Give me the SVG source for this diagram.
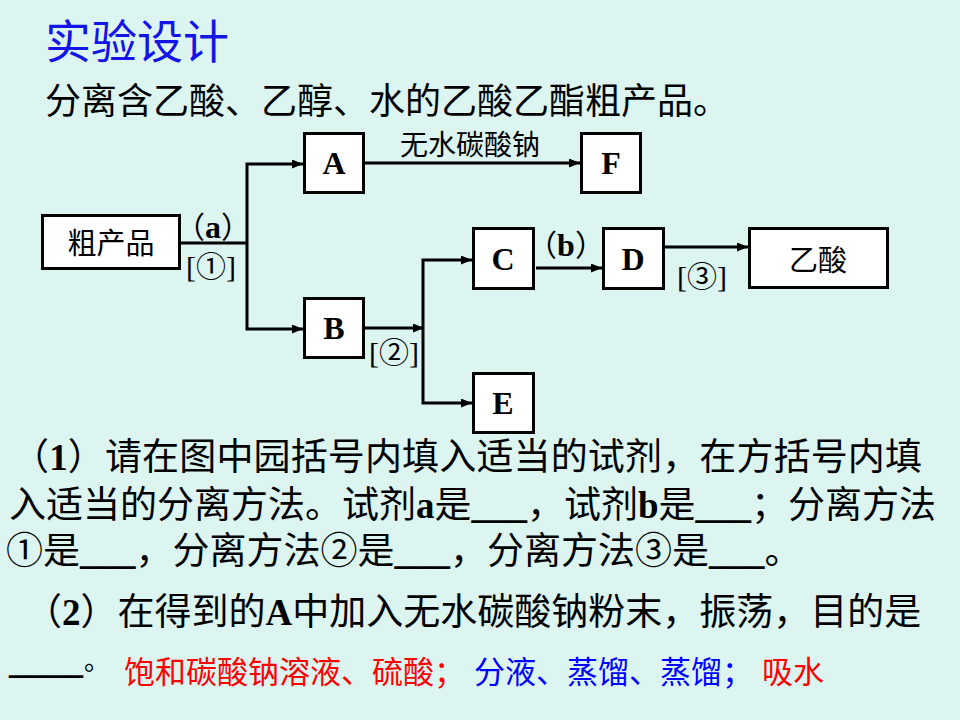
<svg xmlns="http://www.w3.org/2000/svg" width="960" height="720" viewBox="0 0 960 720">
<defs>
<marker id="arr" markerUnits="userSpaceOnUse" markerWidth="11" markerHeight="9" refX="11" refY="4.5" orient="auto">
<path d="M0,0 L11,4.5 L0,9 z" fill="#000"/>
</marker>
<style>
.bg{fill:#DCF5F1}
.box{fill:#fff;stroke:#000;stroke-width:3}
.ln{fill:none;stroke:#000;stroke-width:3}
.arr{marker-end:url(#arr)}
text{font-family:"Liberation Serif","Noto Sans CJK SC",serif;fill:#000}
.cjk{font-family:"Noto Sans CJK SC",sans-serif}
.lt{font-weight:bold;font-size:32px;text-anchor:middle}
.lab{font-size:30px;text-anchor:middle}
.b{font-weight:bold}
.q{font-size:37px}
.red{fill:#FF0000}
.blue{fill:#0000FF}
</style>
</defs>
<rect class="bg" x="0" y="0" width="960" height="720"/>
<text x="45" y="58" font-size="46" class="cjk" style="fill:#1414E6">实验设计</text>
<text x="45" y="114" font-size="36" class="cjk">分离含乙酸、乙醇、水的乙酸乙酯粗产品。</text>

<g id="connectors">
<polyline class="ln" points="181,243 247,243"/>
<polyline class="ln arr" points="247,243 247,164 303,164"/>
<polyline class="ln arr" points="247,243 247,329 303,329"/>
<line class="ln arr" x1="365" y1="163" x2="580" y2="163"/>
<line class="ln arr" x1="365" y1="328" x2="424" y2="328"/>
<polyline class="ln arr" points="423,328 423,260 472,260"/>
<polyline class="ln arr" points="423,328 423,403 472,403"/>
<line class="ln arr" x1="536" y1="268" x2="602" y2="268"/>
<line class="ln arr" x1="665" y1="247" x2="748" y2="247"/>
<text x="470" y="155" font-size="28" class="cjk" text-anchor="middle">无水碳酸钠</text>
<text x="213" y="238" class="lab">（<tspan class="b" font-size="32">a</tspan>）</text>
<text x="211" y="277" class="lab">[①]</text>
<text x="566" y="256" class="lab">（<tspan class="b" font-size="32">b</tspan>）</text>
<text x="394" y="363" class="lab">[②]</text>
<text x="702" y="287" class="lab">[③]</text>
</g>

<g id="node-crude"><rect class="box" x="42.5" y="215.5" width="137" height="53"/><text x="111" y="254" font-size="29" class="cjk" text-anchor="middle">粗产品</text></g>
<g id="node-A"><rect class="box" x="304.5" y="133.5" width="59" height="59"/><text x="334" y="174" class="lt">A</text></g>
<g id="node-F"><rect class="box" x="581.5" y="133.5" width="59" height="59"/><text x="611" y="174" class="lt">F</text></g>
<g id="node-B"><rect class="box" x="304.5" y="298.5" width="59" height="59"/><text x="334" y="339" class="lt">B</text></g>
<g id="node-C"><rect class="box" x="473.5" y="228.5" width="60" height="60"/><text x="503" y="270" class="lt">C</text></g>
<g id="node-D"><rect class="box" x="603.5" y="228.5" width="60" height="60"/><text x="633" y="270" class="lt">D</text></g>
<g id="node-E"><rect class="box" x="473.5" y="373.5" width="60" height="59"/><text x="503" y="414" class="lt">E</text></g>
<g id="node-acid"><rect class="box" x="749.5" y="228.5" width="138" height="59"/><text x="818" y="271" font-size="29" class="cjk" text-anchor="middle">乙酸</text></g>

<text x="12" y="470" class="q" textLength="910" lengthAdjust="spacing">（<tspan class="b">1</tspan>）请在图中园括号内填入适当的试剂，在方括号内填</text>
<text x="9" y="518" class="q">入适当的分离方法。试剂<tspan class="b">a</tspan>是<tspan class="b">___</tspan>，试剂<tspan class="b">b</tspan>是<tspan class="b">___</tspan>；分离方法</text>
<text x="6" y="564" class="q">①是<tspan class="b">___</tspan>，分离方法②是<tspan class="b">___</tspan>，分离方法③是<tspan class="b">___</tspan>。</text>
<text x="25" y="625" class="q">（<tspan class="b">2</tspan>）在得到的<tspan class="b">A</tspan>中加入无水碳酸钠粉末，振荡，目的是</text>
<text x="9" y="673" class="q b">____</text>
<text x="84" y="670" font-size="26" class="cjk">。</text>
<text y="683" font-size="31"><tspan x="124" class="red">饱和碳酸钠溶液、硫酸；</tspan><tspan x="474" class="blue">分液、蒸馏、蒸馏；</tspan><tspan x="762" class="red">吸水</tspan></text>
</svg>
